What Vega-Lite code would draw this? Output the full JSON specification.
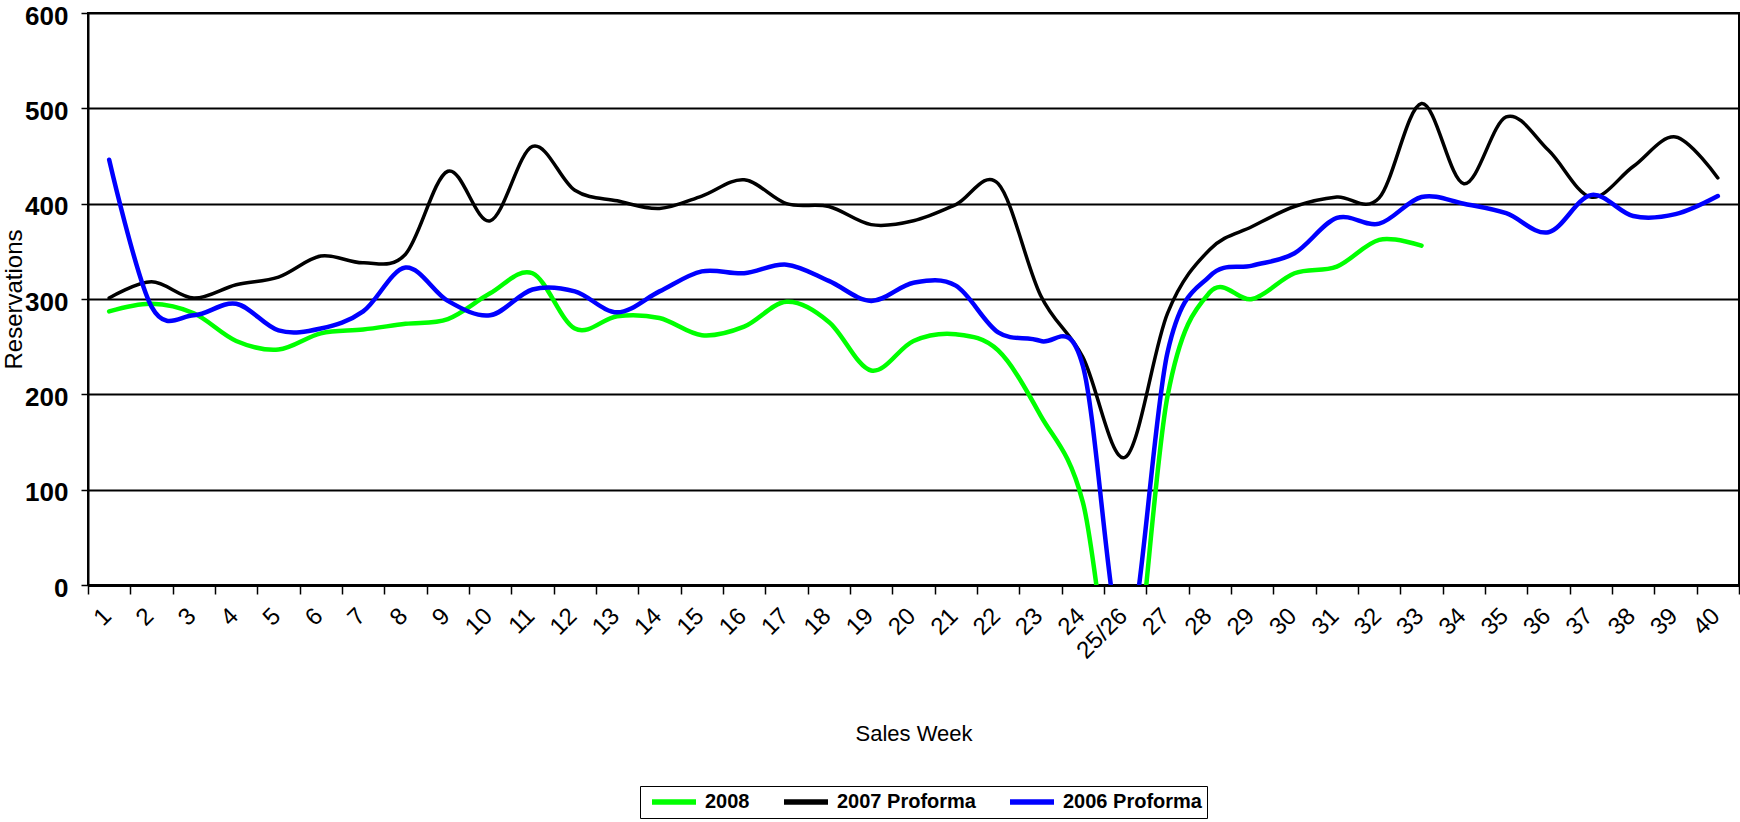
{
  "$schema": "https://vega.github.io/schema/vega-lite/v6.json",
  "width": 1651,
  "height": 572,
  "autosize": {"type": "none"},
  "padding": {"left": 88, "top": 13, "right": 1, "bottom": 237},
  "background": "white",
  "config": {
    "view": {"stroke": "black", "strokeWidth": 2},
    "font": "Liberation Sans"
  },
  "data": {
    "values": [
      {"week": "1", "series": "2008", "value": 287},
      {"week": "2", "series": "2008", "value": 295},
      {"week": "3", "series": "2008", "value": 285},
      {"week": "4", "series": "2008", "value": 256},
      {"week": "5", "series": "2008", "value": 247},
      {"week": "6", "series": "2008", "value": 264},
      {"week": "7", "series": "2008", "value": 268},
      {"week": "8", "series": "2008", "value": 274},
      {"week": "9", "series": "2008", "value": 279},
      {"week": "10", "series": "2008", "value": 306},
      {"week": "11", "series": "2008", "value": 327},
      {"week": "12", "series": "2008", "value": 269},
      {"week": "13", "series": "2008", "value": 282},
      {"week": "14", "series": "2008", "value": 280},
      {"week": "15", "series": "2008", "value": 262},
      {"week": "16", "series": "2008", "value": 271},
      {"week": "17", "series": "2008", "value": 297},
      {"week": "18", "series": "2008", "value": 276},
      {"week": "19", "series": "2008", "value": 225},
      {"week": "20", "series": "2008", "value": 256},
      {"week": "21", "series": "2008", "value": 263},
      {"week": "22", "series": "2008", "value": 246},
      {"week": "23", "series": "2008", "value": 178},
      {"week": "24", "series": "2008", "value": 87},
      {"week": "25/26", "series": "2008", "value": -154},
      {"week": "27", "series": "2008", "value": 198},
      {"week": "28", "series": "2008", "value": 307},
      {"week": "29", "series": "2008", "value": 300},
      {"week": "30", "series": "2008", "value": 327},
      {"week": "31", "series": "2008", "value": 334},
      {"week": "32", "series": "2008", "value": 362},
      {"week": "33", "series": "2008", "value": 356},

      {"week": "1", "series": "2007 Proforma", "value": 301},
      {"week": "2", "series": "2007 Proforma", "value": 318},
      {"week": "3", "series": "2007 Proforma", "value": 301},
      {"week": "4", "series": "2007 Proforma", "value": 315},
      {"week": "5", "series": "2007 Proforma", "value": 323},
      {"week": "6", "series": "2007 Proforma", "value": 345},
      {"week": "7", "series": "2007 Proforma", "value": 338},
      {"week": "8", "series": "2007 Proforma", "value": 347},
      {"week": "9", "series": "2007 Proforma", "value": 434},
      {"week": "10", "series": "2007 Proforma", "value": 382},
      {"week": "11", "series": "2007 Proforma", "value": 460},
      {"week": "12", "series": "2007 Proforma", "value": 414},
      {"week": "13", "series": "2007 Proforma", "value": 403},
      {"week": "14", "series": "2007 Proforma", "value": 395},
      {"week": "15", "series": "2007 Proforma", "value": 408},
      {"week": "16", "series": "2007 Proforma", "value": 425},
      {"week": "17", "series": "2007 Proforma", "value": 400},
      {"week": "18", "series": "2007 Proforma", "value": 397},
      {"week": "19", "series": "2007 Proforma", "value": 378},
      {"week": "20", "series": "2007 Proforma", "value": 382},
      {"week": "21", "series": "2007 Proforma", "value": 399},
      {"week": "22", "series": "2007 Proforma", "value": 421},
      {"week": "23", "series": "2007 Proforma", "value": 304},
      {"week": "24", "series": "2007 Proforma", "value": 239},
      {"week": "25/26", "series": "2007 Proforma", "value": 134},
      {"week": "27", "series": "2007 Proforma", "value": 285},
      {"week": "28", "series": "2007 Proforma", "value": 352},
      {"week": "29", "series": "2007 Proforma", "value": 376},
      {"week": "30", "series": "2007 Proforma", "value": 397},
      {"week": "31", "series": "2007 Proforma", "value": 407},
      {"week": "32", "series": "2007 Proforma", "value": 406},
      {"week": "33", "series": "2007 Proforma", "value": 505},
      {"week": "34", "series": "2007 Proforma", "value": 421},
      {"week": "35", "series": "2007 Proforma", "value": 491},
      {"week": "36", "series": "2007 Proforma", "value": 456},
      {"week": "37", "series": "2007 Proforma", "value": 407},
      {"week": "38", "series": "2007 Proforma", "value": 439},
      {"week": "39", "series": "2007 Proforma", "value": 470},
      {"week": "40", "series": "2007 Proforma", "value": 427},

      {"week": "1", "series": "2006 Proforma", "value": 446},
      {"week": "2", "series": "2006 Proforma", "value": 292},
      {"week": "3", "series": "2006 Proforma", "value": 283},
      {"week": "4", "series": "2006 Proforma", "value": 295},
      {"week": "5", "series": "2006 Proforma", "value": 267},
      {"week": "6", "series": "2006 Proforma", "value": 269},
      {"week": "7", "series": "2006 Proforma", "value": 287},
      {"week": "8", "series": "2006 Proforma", "value": 333},
      {"week": "9", "series": "2006 Proforma", "value": 298},
      {"week": "10", "series": "2006 Proforma", "value": 283},
      {"week": "11", "series": "2006 Proforma", "value": 310},
      {"week": "12", "series": "2006 Proforma", "value": 308},
      {"week": "13", "series": "2006 Proforma", "value": 286},
      {"week": "14", "series": "2006 Proforma", "value": 308},
      {"week": "15", "series": "2006 Proforma", "value": 329},
      {"week": "16", "series": "2006 Proforma", "value": 327},
      {"week": "17", "series": "2006 Proforma", "value": 336},
      {"week": "18", "series": "2006 Proforma", "value": 319},
      {"week": "19", "series": "2006 Proforma", "value": 298},
      {"week": "20", "series": "2006 Proforma", "value": 317},
      {"week": "21", "series": "2006 Proforma", "value": 314},
      {"week": "22", "series": "2006 Proforma", "value": 265},
      {"week": "23", "series": "2006 Proforma", "value": 256},
      {"week": "24", "series": "2006 Proforma", "value": 230},
      {"week": "25/26", "series": "2006 Proforma", "value": -66},
      {"week": "27", "series": "2006 Proforma", "value": 244},
      {"week": "28", "series": "2006 Proforma", "value": 324},
      {"week": "29", "series": "2006 Proforma", "value": 335},
      {"week": "30", "series": "2006 Proforma", "value": 348},
      {"week": "31", "series": "2006 Proforma", "value": 385},
      {"week": "32", "series": "2006 Proforma", "value": 379},
      {"week": "33", "series": "2006 Proforma", "value": 407},
      {"week": "34", "series": "2006 Proforma", "value": 400},
      {"week": "35", "series": "2006 Proforma", "value": 390},
      {"week": "36", "series": "2006 Proforma", "value": 370},
      {"week": "37", "series": "2006 Proforma", "value": 409},
      {"week": "38", "series": "2006 Proforma", "value": 387},
      {"week": "39", "series": "2006 Proforma", "value": 389},
      {"week": "40", "series": "2006 Proforma", "value": 408}
    ]
  },
  "mark": {"type": "line", "interpolate": "cardinal", "tension": 0, "clip": true, "strokeCap": "round", "strokeJoin": "round"},
  "encoding": {
    "x": {
      "field": "week",
      "type": "ordinal",
      "bandPosition": 0.5,
      "sort": ["1","2","3","4","5","6","7","8","9","10","11","12","13","14","15","16","17","18","19","20","21","22","23","24","25/26","27","28","29","30","31","32","33","34","35","36","37","38","39","40"],
      "scale": {"type": "band", "paddingInner": 0, "paddingOuter": 0},
      "axis": {
        "title": "Sales Week",
        "titleFont": "Liberation Sans",
        "titleFontSize": 22,
        "titleFontWeight": "normal",
        "titleColor": "black",
        "titleY": 155,
        "titleBaseline": "alphabetic",
        "labelAngle": -45,
        "labelFont": "Liberation Sans",
        "labelFontSize": 24,
        "labelColor": "black",
        "labelBaseline": "middle",
        "labelPadding": 18,
        "labelOffset": -2,
        "tickBand": "extent",
        "tickSize": 9,
        "tickWidth": 1.5,
        "tickColor": "black",
        "domainColor": "black",
        "domainWidth": 3,
        "grid": false
      }
    },
    "y": {
      "field": "value",
      "type": "quantitative",
      "scale": {"domain": [0, 600], "nice": false, "zero": false},
      "axis": {
        "title": "Reservations",
        "titleFont": "Liberation Sans",
        "titleFontSize": 24,
        "titleFontWeight": "normal",
        "titleColor": "black",
        "titleX": -67,
        "titleBaseline": "alphabetic",
        "values": [0, 100, 200, 300, 400, 500, 600],
        "labelFont": "Liberation Sans",
        "labelFontSize": 26,
        "labelFontWeight": "bold",
        "labelColor": "black",
        "labelPadding": 13,
        "labelOffset": 3,
        "tickSize": 7,
        "tickWidth": 1.5,
        "tickColor": "black",
        "domainColor": "black",
        "domainWidth": 2,
        "grid": true,
        "gridColor": "black",
        "gridWidth": 2,
        "gridOpacity": 1
      }
    },
    "color": {
      "field": "series",
      "type": "nominal",
      "sort": ["2008", "2007 Proforma", "2006 Proforma"],
      "scale": {"domain": ["2008", "2007 Proforma", "2006 Proforma"], "range": ["#00ff00", "#000000", "#0000ff"]},
      "legend": {
        "orient": "none",
        "legendX": 552,
        "legendY": 773,
        "direction": "horizontal",
        "title": null,
        "symbolType": "M-2.75,0H2.75",
        "symbolSize": 256,
        "symbolStrokeWidth": 5.5,
        "symbolOffset": 18,
        "labelFont": "Liberation Sans",
        "labelFontSize": 20,
        "labelFontWeight": "bold",
        "labelColor": "black",
        "labelOffset": 20,
        "labelLimit": 0,
        "columnPadding": 23,
        "strokeColor": "black",
        "padding": 5
      }
    },
    "strokeWidth": {
      "condition": {"test": "datum.series === '2007 Proforma'", "value": 3.5},
      "value": 4.5
    }
  }
}
